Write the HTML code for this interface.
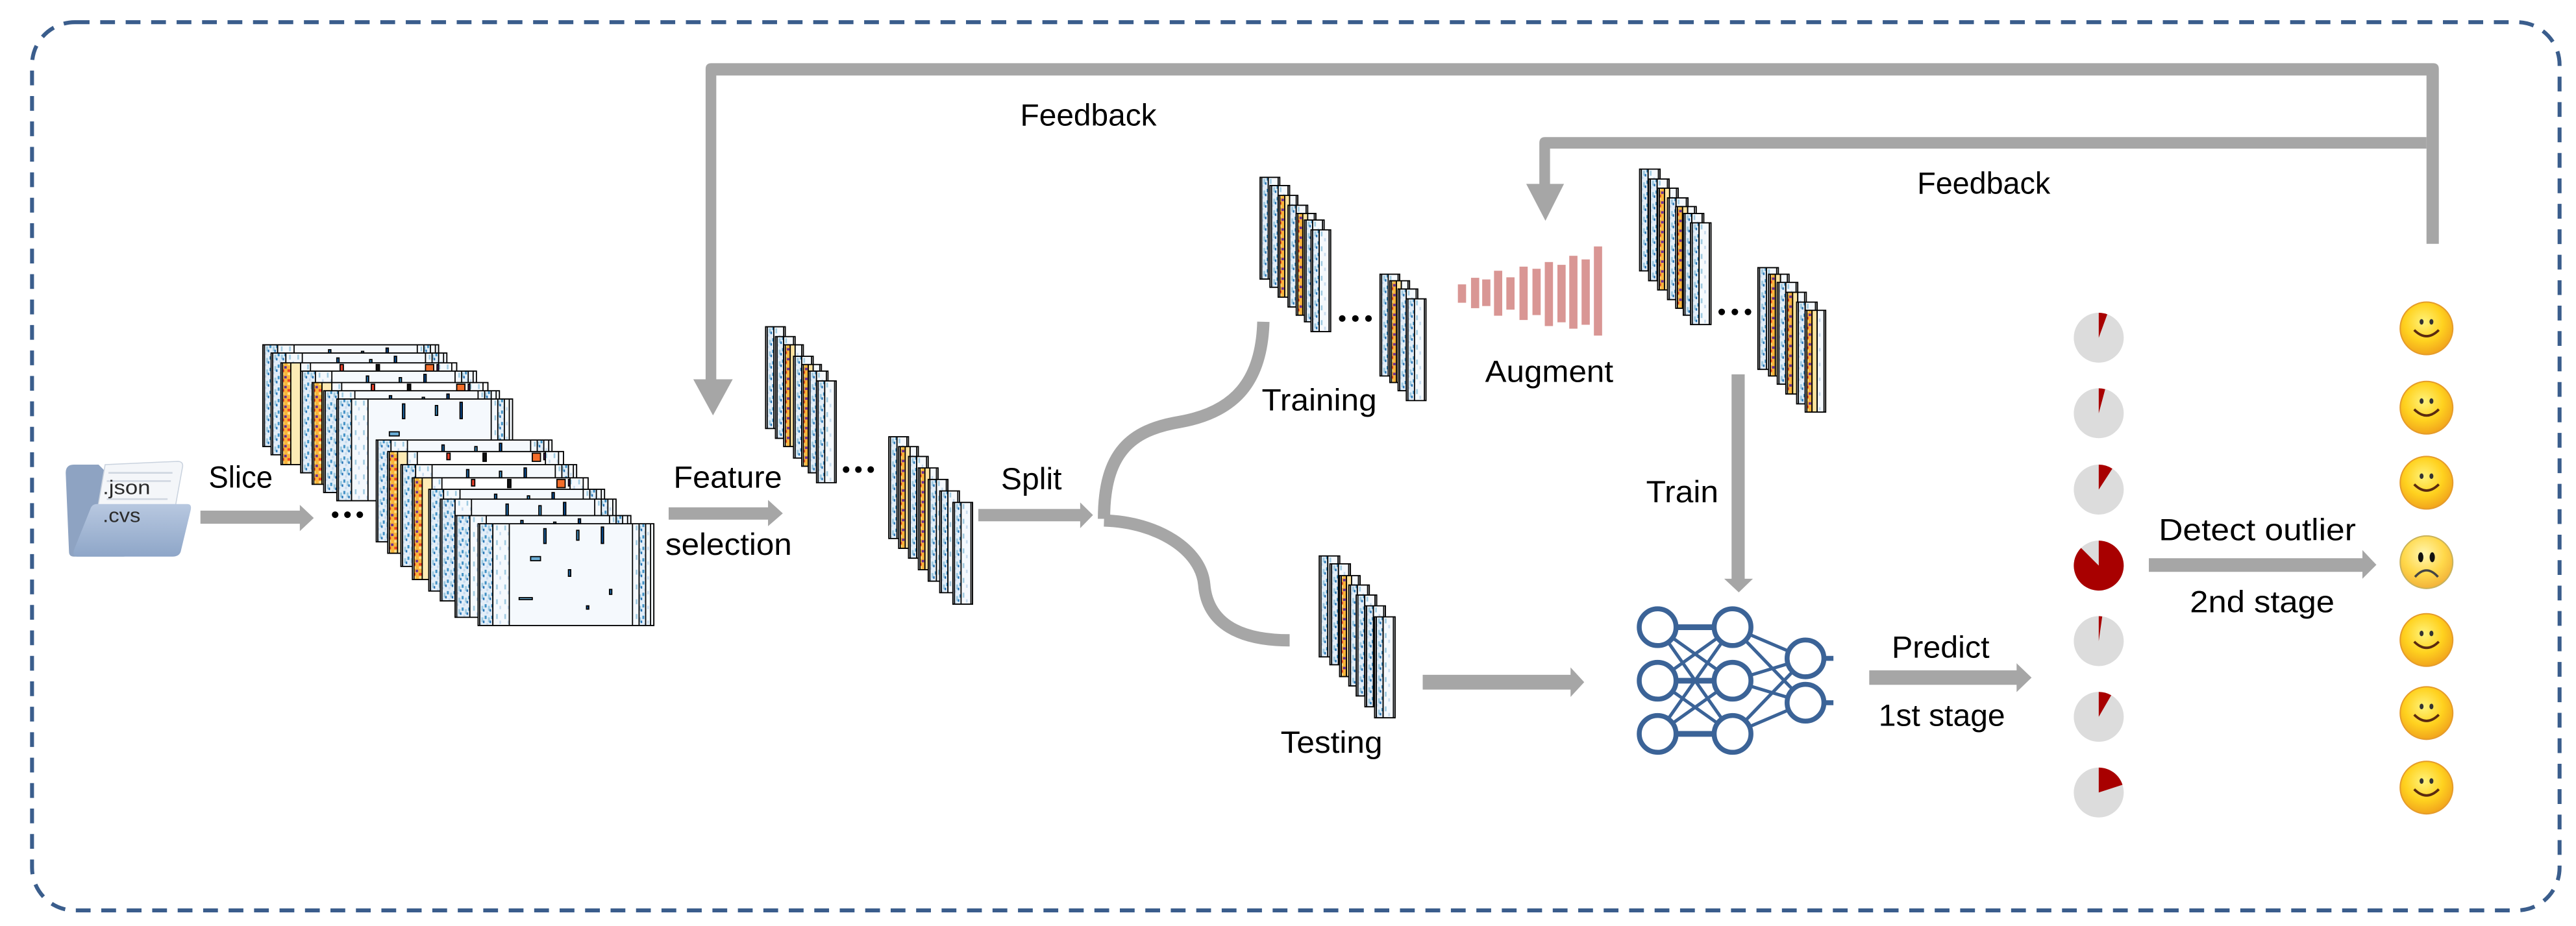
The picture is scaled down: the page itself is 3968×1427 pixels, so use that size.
<!DOCTYPE html>
<html><head><meta charset="utf-8">
<style>html,body{margin:0;padding:0;background:#fff;}svg{display:block;}text{font-family:"Liberation Sans",sans-serif;fill:#000;}</style>
</head><body>
<svg width="3968" height="1427" viewBox="0 0 1568 564" preserveAspectRatio="none" xmlns="http://www.w3.org/2000/svg" xmlns:xlink="http://www.w3.org/1999/xlink">
<defs>
<radialGradient id="sm" cx="45%" cy="38%" r="65%"><stop offset="0" stop-color="#fff27a"/><stop offset="0.55" stop-color="#ffd21f"/><stop offset="1" stop-color="#f0a01c"/></radialGradient>
<radialGradient id="sd" cx="45%" cy="35%" r="65%"><stop offset="0" stop-color="#fff6b0"/><stop offset="0.6" stop-color="#ffd84a"/><stop offset="1" stop-color="#f2b23a"/></radialGradient>
<linearGradient id="fd" x1="0" y1="0" x2="0" y2="1"><stop offset="0" stop-color="#b8c8e0"/><stop offset="1" stop-color="#8ea6c8"/></linearGradient>
<pattern id="pb" width="4" height="7" patternUnits="userSpaceOnUse">
<rect width="4" height="7" fill="#e3eef8"/><rect x="0" y="0" width="1.2" height="2" fill="#4292c6"/><rect x="2" y="1" width="1.2" height="3" fill="#9ecae1"/><rect x="1" y="4.5" width="1.2" height="1.5" fill="#c6dbef"/><rect x="3" y="3" width="0.9" height="1.5" fill="#2171b5"/></pattern>
<pattern id="pl" width="5" height="9" patternUnits="userSpaceOnUse">
<rect width="5" height="9" fill="#f5f9fd"/><rect x="1" y="1" width="1" height="3" fill="#9ecae1"/><rect x="3" y="5" width="1" height="2" fill="#c6dbef"/></pattern>
<pattern id="ph" width="4" height="6" patternUnits="userSpaceOnUse">
<rect width="4" height="6" fill="#f9b43a"/><rect x="0" y="0" width="2" height="1.5" fill="#fde08a"/><rect x="2" y="2" width="1.5" height="1.5" fill="#6a2c91"/><rect x="0" y="4" width="2" height="1.5" fill="#e8402a"/></pattern>
<symbol id="bb" viewBox="0 0 107 62" preserveAspectRatio="none">
<rect width="107" height="62" fill="#f5f9fd"/><rect x="1" y="0" width="8" height="62" fill="url(#pb)"/><rect x="9" y="0" width="10" height="62" fill="url(#pl)"/>
<rect x="94" y="0" width="11" height="62" fill="url(#pl)"/><rect x="98" y="0" width="4" height="62" fill="url(#pb)"/>
<rect x="40" y="3" width="1.4" height="9" fill="#2171b5"/><rect x="60" y="4" width="1.4" height="6" fill="#4292c6"/><rect x="75" y="2" width="1.4" height="10" fill="#08519c"/><rect x="32" y="20" width="6" height="2.5" fill="#6baed6"/><rect x="55" y="28" width="1.4" height="4" fill="#2171b5"/><rect x="80" y="40" width="1.4" height="3" fill="#2171b5"/><rect x="25" y="45" width="8" height="1.2" fill="#6baed6"/><rect x="66" y="50" width="1.4" height="2" fill="#08519c"/></symbol>
<symbol id="bh" viewBox="0 0 107 62" preserveAspectRatio="none">
<rect width="107" height="62" fill="#fff"/><rect x="1" y="0" width="5" height="62" fill="url(#ph)"/><rect x="6" y="0" width="6" height="62" fill="#fdebb5"/><rect x="12" y="0" width="6" height="62" fill="url(#pl)"/>
<rect x="36" y="1" width="2" height="4" fill="#e8402a"/><rect x="58" y="1" width="2" height="5" fill="#111"/><rect x="88" y="1" width="5" height="5" fill="#f46d2a"/><rect x="95" y="1" width="3" height="4" fill="#6a2c91"/><rect x="96" y="0" width="8" height="62" fill="url(#pl)"/></symbol>
<symbol id="nb" viewBox="0 0 12 62" preserveAspectRatio="none">
<rect width="12" height="62" fill="#f5f9fd"/><rect x="1" y="0" width="4" height="62" fill="url(#pb)"/><rect x="5" y="0" width="6" height="62" fill="url(#pl)"/></symbol>
<symbol id="nh" viewBox="0 0 12 62" preserveAspectRatio="none">
<rect width="12" height="62" fill="#fff"/><rect x="1" y="0" width="3" height="62" fill="url(#ph)"/><rect x="4" y="0" width="3" height="62" fill="#fde3a0"/><rect x="7" y="0" width="4" height="62" fill="url(#pl)"/></symbol>
</defs>
<rect width="1568" height="564" fill="#fff"/>
<rect x="19.5" y="13.5" width="1538.5" height="541" rx="26" fill="none" stroke="#3a5d8c" stroke-width="2.4" stroke-dasharray="9 6.5"/>

<g fill="#a6a6a6">
<path d="M1477,148.5 V46 H436 V232 H429.5 V42 Q429.5,38.5 433,38.5 H1481 Q1484.5,38.5 1484.5,42 V148.5 Z"/>
<polygon points="422,231 446,231 434,253"/>
<path d="M1477,90.5 H943.5 V113 H937 V87 Q937,83.5 940.5,83.5 H1477 Z"/>
<polygon points="929,112 952,112 940.7,134.5"/>
<rect x="1054" y="228" width="8" height="125"/>
<polygon points="1049.5,352.5 1067,352.5 1058.4,360.8"/>
<rect x="122" y="311" width="62" height="8"/><polygon points="182.5,307.5 182.5,323.5 191,315.5"/>
<rect x="407" y="309" width="62" height="7.5"/><polygon points="467.5,304.5 467.5,320.5 476.5,312.7"/>
<rect x="595.5" y="310" width="63" height="7.5"/><polygon points="657.5,306 657.5,321.7 665.3,313.7"/>
<rect x="866" y="411" width="91" height="9"/><polygon points="956,406.5 956,424.5 964.3,415.5"/>
<rect x="1137.8" y="408.3" width="91" height="8.8"/><polygon points="1227.5,404 1227.5,421.5 1236.6,412.7"/>
<rect x="1308" y="340" width="131" height="8.3"/><polygon points="1438,335 1438,352.5 1446.5,344"/>
</g>
<g fill="none" stroke="#a6a6a6" stroke-width="7.5">
<path d="M672,316 C672,276 688,262 718,257 C752,251 768,232 769,196"/>
<path d="M672,317 C705,318 731,335 733,356 C735,380 755,390 785,390"/>
</g>

<path d="M40,288 Q40,283 45,283 H60 L64,287 H78 V336 Q78,339 75,339 H45 Q42,339 42,336 Z" fill="#8ea3c2"/>
<path d="M64,283 L108,281 Q112,281 111,285 L105,318 H58 Z" fill="#f4f6f9" stroke="#c9d2de" stroke-width="0.6"/>
<g stroke="#cfd6e0" stroke-width="1"><line x1="66" y1="288" x2="105" y2="288"/><line x1="65" y1="293" x2="104" y2="293"/><line x1="65" y1="304" x2="102" y2="304"/></g>
<path d="M55,310 Q56,307 59,307 H114 Q117,307 116,311 L110,336 Q109,339 105,339 H47 Q44,339 45,335 Z" fill="url(#fd)"/>
<text x="62.5" y="301" font-size="12" style="fill:#2b2b2b" textLength="29" lengthAdjust="spacingAndGlyphs">.json</text>
<text x="62.5" y="318" font-size="12" style="fill:#2b2b2b" textLength="23" lengthAdjust="spacingAndGlyphs">.cvs</text>

<g stroke="#000" stroke-width="0.7">
<use href="#bb" x="160" y="210" width="107" height="62"/><rect x="160" y="210" width="107" height="62" fill="none"/>
<use href="#bb" x="165" y="215" width="107" height="62"/><rect x="165" y="215" width="107" height="62" fill="none"/>
<use href="#bh" x="171" y="221" width="107" height="62"/><rect x="171" y="221" width="107" height="62" fill="none"/>
<use href="#bb" x="183" y="226" width="107" height="62"/><rect x="183" y="226" width="107" height="62" fill="none"/>
<use href="#bh" x="190" y="233" width="107" height="62"/><rect x="190" y="233" width="107" height="62" fill="none"/>
<use href="#bb" x="197" y="238" width="107" height="62"/><rect x="197" y="238" width="107" height="62" fill="none"/>
<use href="#bb" x="205" y="243" width="107" height="62"/><rect x="205" y="243" width="107" height="62" fill="none"/>
<use href="#bb" x="229" y="268" width="107" height="62"/><rect x="229" y="268" width="107" height="62" fill="none"/>
<use href="#bh" x="236" y="275" width="107" height="62"/><rect x="236" y="275" width="107" height="62" fill="none"/>
<use href="#bb" x="244" y="283" width="107" height="62"/><rect x="244" y="283" width="107" height="62" fill="none"/>
<use href="#bh" x="251" y="291" width="107" height="62"/><rect x="251" y="291" width="107" height="62" fill="none"/>
<use href="#bb" x="261" y="298" width="107" height="62"/><rect x="261" y="298" width="107" height="62" fill="none"/>
<use href="#bb" x="268" y="304" width="107" height="62"/><rect x="268" y="304" width="107" height="62" fill="none"/>
<use href="#bb" x="277" y="314" width="107" height="62"/><rect x="277" y="314" width="107" height="62" fill="none"/>
<use href="#bb" x="291" y="319" width="107" height="62"/><rect x="291" y="319" width="107" height="62" fill="none"/>

<use href="#nb" x="466" y="199" width="12" height="62"/><rect x="466" y="199" width="12" height="62" fill="none"/>
<use href="#nb" x="472" y="205" width="12" height="62"/><rect x="472" y="205" width="12" height="62" fill="none"/>
<use href="#nh" x="477" y="210" width="12" height="62"/><rect x="477" y="210" width="12" height="62" fill="none"/>
<use href="#nb" x="483" y="217" width="12" height="62"/><rect x="483" y="217" width="12" height="62" fill="none"/>
<use href="#nh" x="488" y="222" width="12" height="62"/><rect x="488" y="222" width="12" height="62" fill="none"/>
<use href="#nb" x="492" y="226" width="12" height="62"/><rect x="492" y="226" width="12" height="62" fill="none"/>
<use href="#nb" x="497" y="232" width="12" height="62"/><rect x="497" y="232" width="12" height="62" fill="none"/>

<use href="#nb" x="541" y="266" width="12" height="62"/><rect x="541" y="266" width="12" height="62" fill="none"/>
<use href="#nh" x="547" y="272" width="12" height="62"/><rect x="547" y="272" width="12" height="62" fill="none"/>
<use href="#nb" x="553" y="278" width="12" height="62"/><rect x="553" y="278" width="12" height="62" fill="none"/>
<use href="#nh" x="559" y="285" width="12" height="62"/><rect x="559" y="285" width="12" height="62" fill="none"/>
<use href="#nb" x="565" y="292" width="12" height="62"/><rect x="565" y="292" width="12" height="62" fill="none"/>
<use href="#nb" x="572" y="299" width="12" height="62"/><rect x="572" y="299" width="12" height="62" fill="none"/>
<use href="#nb" x="580" y="306" width="12" height="62"/><rect x="580" y="306" width="12" height="62" fill="none"/>

<use href="#nb" x="767" y="108" width="12" height="62"/><rect x="767" y="108" width="12" height="62" fill="none"/>
<use href="#nb" x="773" y="113" width="12" height="62"/><rect x="773" y="113" width="12" height="62" fill="none"/>
<use href="#nh" x="778" y="119" width="12" height="62"/><rect x="778" y="119" width="12" height="62" fill="none"/>
<use href="#nb" x="784" y="125" width="12" height="62"/><rect x="784" y="125" width="12" height="62" fill="none"/>
<use href="#nh" x="789" y="130" width="12" height="62"/><rect x="789" y="130" width="12" height="62" fill="none"/>
<use href="#nb" x="794" y="134" width="12" height="62"/><rect x="794" y="134" width="12" height="62" fill="none"/>
<use href="#nb" x="798" y="140" width="12" height="62"/><rect x="798" y="140" width="12" height="62" fill="none"/>

<use href="#nb" x="840" y="167" width="12" height="62"/><rect x="840" y="167" width="12" height="62" fill="none"/>
<use href="#nh" x="846" y="171" width="12" height="62"/><rect x="846" y="171" width="12" height="62" fill="none"/>
<use href="#nb" x="851" y="176" width="12" height="62"/><rect x="851" y="176" width="12" height="62" fill="none"/>
<use href="#nb" x="856" y="182" width="12" height="62"/><rect x="856" y="182" width="12" height="62" fill="none"/>

<use href="#nb" x="998" y="103" width="12.5" height="62"/><rect x="998" y="103" width="12.5" height="62" fill="none"/>
<use href="#nb" x="1003.5" y="109" width="12.5" height="62"/><rect x="1003.5" y="109" width="12.5" height="62" fill="none"/>
<use href="#nh" x="1009" y="114.6" width="12.5" height="62"/><rect x="1009" y="114.6" width="12.5" height="62" fill="none"/>
<use href="#nb" x="1015" y="120.5" width="12.5" height="62"/><rect x="1015" y="120.5" width="12.5" height="62" fill="none"/>
<use href="#nh" x="1020" y="125.8" width="12.5" height="62"/><rect x="1020" y="125.8" width="12.5" height="62" fill="none"/>
<use href="#nb" x="1024.6" y="130" width="12.5" height="62"/><rect x="1024.6" y="130" width="12.5" height="62" fill="none"/>
<use href="#nb" x="1029" y="135.7" width="12.5" height="62"/><rect x="1029" y="135.7" width="12.5" height="62" fill="none"/>

<use href="#nb" x="1070" y="163" width="12.5" height="62"/><rect x="1070" y="163" width="12.5" height="62" fill="none"/>
<use href="#nh" x="1076.5" y="167" width="12.5" height="62"/><rect x="1076.5" y="167" width="12.5" height="62" fill="none"/>
<use href="#nb" x="1081.8" y="172" width="12.5" height="62"/><rect x="1081.8" y="172" width="12.5" height="62" fill="none"/>
<use href="#nh" x="1087" y="178" width="12.5" height="62"/><rect x="1087" y="178" width="12.5" height="62" fill="none"/>
<use href="#nb" x="1093.6" y="184" width="12.5" height="62"/><rect x="1093.6" y="184" width="12.5" height="62" fill="none"/>
<use href="#nh" x="1098.8" y="189" width="12.5" height="62"/><rect x="1098.8" y="189" width="12.5" height="62" fill="none"/>

<use href="#nb" x="803" y="338.6" width="12.5" height="61.5"/><rect x="803" y="338.6" width="12.5" height="61.5" fill="none"/>
<use href="#nb" x="809.5" y="343.4" width="12.5" height="61.5"/><rect x="809.5" y="343.4" width="12.5" height="61.5" fill="none"/>
<use href="#nh" x="815.4" y="350.6" width="12.5" height="61.5"/><rect x="815.4" y="350.6" width="12.5" height="61.5" fill="none"/>
<use href="#nb" x="821" y="356.3" width="12.5" height="61.5"/><rect x="821" y="356.3" width="12.5" height="61.5" fill="none"/>
<use href="#nb" x="825.5" y="362.4" width="12.5" height="61.5"/><rect x="825.5" y="362.4" width="12.5" height="61.5" fill="none"/>
<use href="#nb" x="830.8" y="369" width="12.5" height="61.5"/><rect x="830.8" y="369" width="12.5" height="61.5" fill="none"/>
<use href="#nb" x="836.7" y="375.7" width="12.5" height="61.5"/><rect x="836.7" y="375.7" width="12.5" height="61.5" fill="none"/>
</g>

<g fill="#000">
<circle cx="204" cy="313.5" r="2"/><circle cx="211.5" cy="313.5" r="2"/><circle cx="219" cy="313.5" r="2"/>
<circle cx="515" cy="286" r="2"/><circle cx="522.5" cy="286" r="2"/><circle cx="530" cy="286" r="2"/>
<circle cx="817" cy="194" r="2"/><circle cx="825" cy="194" r="2"/><circle cx="833" cy="194" r="2"/>
<circle cx="1048" cy="190" r="2"/><circle cx="1056" cy="190" r="2"/><circle cx="1064" cy="190" r="2"/>
</g>

<g fill="#d99694">
<rect x="887.4" y="173.2" width="5" height="11.2"/><rect x="895.4" y="169.2" width="5" height="18.5"/><rect x="902.2" y="170.2" width="5" height="16.2"/><rect x="909.4" y="164.9" width="5" height="27.4"/><rect x="916.9" y="168.9" width="5" height="19.7"/><rect x="924.9" y="162.4" width="5" height="32.5"/><rect x="932.8" y="163.7" width="5" height="28.2"/><rect x="940.3" y="159.6" width="5" height="39"/><rect x="948" y="161.3" width="5" height="35"/><rect x="955.2" y="155.8" width="5" height="44.4"/><rect x="962.7" y="158" width="5" height="39.8"/><rect x="970.2" y="150.1" width="5" height="54.3"/>
</g>

<g stroke="#3b6397" stroke-width="2">
<line x1="1009" y1="382" x2="1054.6" y2="382" stroke-width="3.5"/><line x1="1009" y1="382" x2="1054.6" y2="414.6"/><line x1="1009" y1="382" x2="1054.6" y2="447"/>
<line x1="1009" y1="414.6" x2="1054.6" y2="382"/><line x1="1009" y1="414.6" x2="1054.6" y2="414.6" stroke-width="3.5"/><line x1="1009" y1="414.6" x2="1054.6" y2="447"/>
<line x1="1009" y1="447" x2="1054.6" y2="382"/><line x1="1009" y1="447" x2="1054.6" y2="414.6"/><line x1="1009" y1="447" x2="1054.6" y2="447" stroke-width="3.5"/>
<line x1="1054.6" y1="382" x2="1099" y2="401"/><line x1="1054.6" y1="382" x2="1099" y2="428"/>
<line x1="1054.6" y1="414.6" x2="1099" y2="401"/><line x1="1054.6" y1="414.6" x2="1099" y2="428"/>
<line x1="1054.6" y1="447" x2="1099" y2="401"/><line x1="1054.6" y1="447" x2="1099" y2="428"/>
<line x1="1108" y1="401" x2="1116" y2="401" stroke-width="3"/><line x1="1108" y1="428" x2="1116" y2="428" stroke-width="3"/>
</g>
<g fill="#fff" stroke="#3b6397" stroke-width="3">
<circle cx="1009" cy="382" r="11.2"/><circle cx="1009" cy="414.6" r="11.2"/><circle cx="1009" cy="447" r="11.2"/>
<circle cx="1054.6" cy="382" r="11.2"/><circle cx="1054.6" cy="414.6" r="11.2"/><circle cx="1054.6" cy="447" r="11.2"/>
<circle cx="1099" cy="401" r="11.2"/><circle cx="1099" cy="428" r="11.2"/>
</g>

<g fill="#dcdcdc">
<circle cx="1277.5" cy="205.7" r="15.2"/><circle cx="1277.5" cy="251.7" r="15.2"/><circle cx="1277.5" cy="298.2" r="15.2"/><circle cx="1277.5" cy="344.5" r="15.2"/><circle cx="1277.5" cy="390.5" r="15.2"/><circle cx="1277.5" cy="436.6" r="15.2"/><circle cx="1277.5" cy="482.7" r="15.2"/>
</g>
<g fill="#a80000">
<path d="M1277.5,205.7 L1277.5,190.5 A15.2,15.2 0 0 1 1282.7,191.42 Z"/>
<path d="M1277.5,251.7 L1277.5,236.5 A15.2,15.2 0 0 1 1281.43,237.02 Z"/>
<path d="M1277.5,298.2 L1277.5,283 A15.2,15.2 0 0 1 1285.78,285.45 Z"/>
<path d="M1277.5,344.5 L1277.5,329.3 A15.2,15.2 0 1 1 1266.75,333.75 Z"/>
<path d="M1277.5,390.5 L1277.5,375.3 A15.2,15.2 0 0 1 1279.62,375.45 Z"/>
<path d="M1277.5,436.6 L1277.5,421.4 A15.2,15.2 0 0 1 1285.1,423.44 Z"/>
<path d="M1277.5,482.7 L1277.5,467.5 A15.2,15.2 0 0 1 1291.96,478 Z"/>
</g>

<g>
<g transform="translate(1477,200)"><circle r="16" fill="url(#sm)" stroke="#e59b2a" stroke-width="0.8"/><ellipse cx="-3" cy="-4" rx="1.2" ry="1.7" fill="#333"/><ellipse cx="3" cy="-4" rx="1.2" ry="1.7" fill="#333"/><path d="M-7.5,1 Q0,8.5 7.5,1" fill="none" stroke="#5a2a10" stroke-width="1.5"/></g>
<g transform="translate(1477,248.3)"><circle r="16" fill="url(#sm)" stroke="#e59b2a" stroke-width="0.8"/><ellipse cx="-3" cy="-4" rx="1.2" ry="1.7" fill="#333"/><ellipse cx="3" cy="-4" rx="1.2" ry="1.7" fill="#333"/><path d="M-7.5,1 Q0,8.5 7.5,1" fill="none" stroke="#5a2a10" stroke-width="1.5"/></g>
<g transform="translate(1477,294)"><circle r="16" fill="url(#sm)" stroke="#e59b2a" stroke-width="0.8"/><ellipse cx="-3" cy="-4" rx="1.2" ry="1.7" fill="#333"/><ellipse cx="3" cy="-4" rx="1.2" ry="1.7" fill="#333"/><path d="M-7.5,1 Q0,8.5 7.5,1" fill="none" stroke="#5a2a10" stroke-width="1.5"/></g>
<g transform="translate(1477,342.4)"><circle r="16" fill="url(#sd)" stroke="#c9b25a" stroke-width="0.8"/><ellipse cx="-3.5" cy="-3" rx="1.6" ry="3" fill="#111"/><ellipse cx="3.5" cy="-3" rx="1.6" ry="3" fill="#111"/><path d="M-7,9 Q0,1 7,9" fill="none" stroke="#444" stroke-width="1.4"/></g>
<g transform="translate(1477,389.8)"><circle r="16" fill="url(#sm)" stroke="#e59b2a" stroke-width="0.8"/><ellipse cx="-3" cy="-4" rx="1.2" ry="1.7" fill="#333"/><ellipse cx="3" cy="-4" rx="1.2" ry="1.7" fill="#333"/><path d="M-7.5,1 Q0,8.5 7.5,1" fill="none" stroke="#5a2a10" stroke-width="1.5"/></g>
<g transform="translate(1477,434.3)"><circle r="16" fill="url(#sm)" stroke="#e59b2a" stroke-width="0.8"/><ellipse cx="-3" cy="-4" rx="1.2" ry="1.7" fill="#333"/><ellipse cx="3" cy="-4" rx="1.2" ry="1.7" fill="#333"/><path d="M-7.5,1 Q0,8.5 7.5,1" fill="none" stroke="#5a2a10" stroke-width="1.5"/></g>
<g transform="translate(1477,479.7)"><circle r="16" fill="url(#sm)" stroke="#e59b2a" stroke-width="0.8"/><ellipse cx="-3" cy="-4" rx="1.2" ry="1.7" fill="#333"/><ellipse cx="3" cy="-4" rx="1.2" ry="1.7" fill="#333"/><path d="M-7.5,1 Q0,8.5 7.5,1" fill="none" stroke="#5a2a10" stroke-width="1.5"/></g>
</g>

<g font-size="18.5">
<text x="127" y="297" textLength="39" lengthAdjust="spacingAndGlyphs">Slice</text>
<text x="410" y="297" textLength="66" lengthAdjust="spacingAndGlyphs">Feature</text>
<text x="405" y="338" textLength="77" lengthAdjust="spacingAndGlyphs">selection</text>
<text x="609.3" y="298" textLength="37" lengthAdjust="spacingAndGlyphs">Split</text>
<text x="768" y="250" textLength="70" lengthAdjust="spacingAndGlyphs">Training</text>
<text x="904" y="232.5" textLength="78" lengthAdjust="spacingAndGlyphs">Augment</text>
<text x="779.5" y="458.5" textLength="62" lengthAdjust="spacingAndGlyphs">Testing</text>
<text x="1002" y="306" textLength="44" lengthAdjust="spacingAndGlyphs">Train</text>
<text x="1151.5" y="400.6" textLength="59.5" lengthAdjust="spacingAndGlyphs">Predict</text>
<text x="1143.5" y="442" textLength="77" lengthAdjust="spacingAndGlyphs">1st stage</text>
<text x="1314" y="329" textLength="120" lengthAdjust="spacingAndGlyphs">Detect outlier</text>
<text x="1333" y="373" textLength="88" lengthAdjust="spacingAndGlyphs">2nd  stage</text>
<text x="621" y="76.4" textLength="83" lengthAdjust="spacingAndGlyphs">Feedback</text>
<text x="1167" y="118" textLength="81" lengthAdjust="spacingAndGlyphs">Feedback</text>
</g>
</svg>
</body></html>
